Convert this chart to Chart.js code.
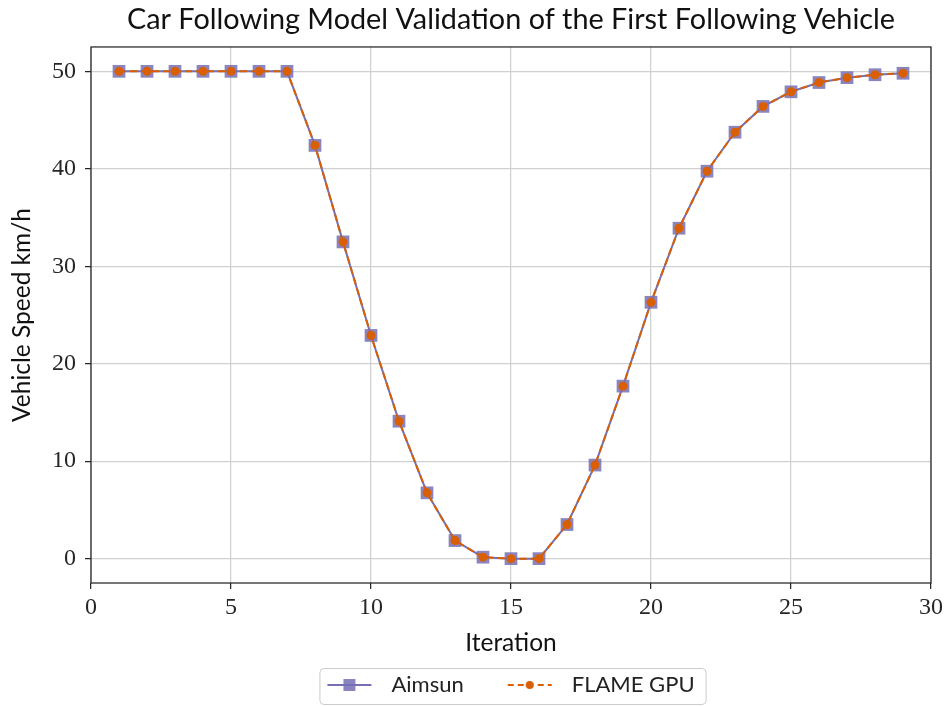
<!DOCTYPE html>
<html>
<head>
<meta charset="utf-8">
<script src="https://cdn.jsdelivr.net/npm/chart.js@4/dist/chart.umd.min.js"></script>
<style>
  html, body { margin: 0; padding: 0; background: #fff; }
</style>
</head>
<body>
<canvas id="chart" width="947" height="706"></canvas>
<script>
const iterations = [1, 2, 3, 4, 5, 6, 7, 8, 9, 10, 11, 12, 13, 14, 15, 16, 17, 18, 19, 20, 21, 22, 23, 24, 25, 26, 27, 28, 29];
const aimsun = [50, 50, 50, 50, 50, 50, 50, 42.4, 32.5, 22.9, 14.1, 6.75, 1.85, 0.15, 0, 0, 3.5, 9.6, 17.7, 26.3, 33.9, 39.75, 43.75, 46.4, 47.9, 48.85, 49.35, 49.65, 49.8];
const flameGpu = [50, 50, 50, 50, 50, 50, 50, 42.4, 32.5, 22.9, 14.1, 6.75, 1.85, 0.15, 0, 0, 3.5, 9.6, 17.7, 26.3, 33.9, 39.75, 43.75, 46.4, 47.9, 48.85, 49.35, 49.65, 49.8];
const xTicks = [0, 5, 10, 15, 20, 25, 30];
const yTicks = [0, 10, 20, 30, 40, 50];

const purple = "#7570b3";
const purpleFill = "rgba(117,112,179,0.85)";
const orange = "#d95f02";
const sans = "Lato, 'Open Sans', sans-serif";
const serif = "'Liberation Serif', serif";

// legend swatches: line with marker, like matplotlib
function swatch(color, dashed, marker) {
  const c = document.createElement("canvas");
  c.width = 87;
  c.height = 22;
  const g = c.getContext("2d");
  g.strokeStyle = color;
  g.lineWidth = 2;
  if (dashed) g.setLineDash([6, 4]);
  g.beginPath();
  g.moveTo(34, 11);
  g.lineTo(78, 11);
  g.stroke();
  g.setLineDash([]);
  if (marker === "rect") {
    g.fillStyle = purpleFill;
    g.fillRect(50, 5, 12, 12);
  } else {
    g.fillStyle = color;
    g.beginPath();
    g.arc(56, 11, 4, 0, Math.PI * 2);
    g.fill();
  }
  return c;
}
const swatches = [swatch(purple, false, "rect"), swatch(orange, true, "circle")];

const framePlugin = {
  id: "frame",
  afterLayout(chart) {
    chart.legend.left -= 17;
    chart.legend.right -= 17;
  },
  beforeDraw(chart) {
    const hb = chart.legend.legendHitBoxes;
    if (!hb || !hb.length) return;
    const ctx = chart.ctx;
    const last = hb[hb.length - 1];
    const x0 = hb[0].left + 26;
    const x1 = last.left + last.width + 11;
    const y0 = hb[0].top - 6;
    const y1 = hb[0].top + hb[0].height + 8;
    ctx.save();
    ctx.fillStyle = "#fff";
    ctx.strokeStyle = "#cccccc";
    ctx.lineWidth = 1;
    ctx.beginPath();
    ctx.roundRect(x0 + 0.5, y0 + 0.5, x1 - x0, y1 - y0, 4);
    ctx.fill();
    ctx.stroke();
    ctx.restore();
  },
  afterDatasetsDraw(chart) {
    const a = chart.chartArea;
    const ctx = chart.ctx;
    ctx.save();
    ctx.strokeStyle = "#262626";
    ctx.lineWidth = 1.25;
    ctx.strokeRect(a.left, a.top, a.right - a.left, a.bottom - a.top);
    ctx.restore();
  }
};

new Chart(document.getElementById("chart").getContext("2d"), {
  type: "line",
  data: {
    datasets: [
      {
        label: "Aimsun",
        data: iterations.map((x, i) => ({ x: x, y: aimsun[i] })),
        borderColor: purple,
        borderWidth: 2,
        pointStyle: "rect",
        pointRadius: 9,
        pointBackgroundColor: purpleFill,
        pointBorderWidth: 0,
        tension: 0,
        order: 2,
      },
      {
        label: "FLAME GPU",
        data: iterations.map((x, i) => ({ x: x, y: flameGpu[i] })),
        borderColor: orange,
        borderWidth: 2,
        borderDash: [7, 4],
        pointStyle: "circle",
        pointRadius: 4.5,
        pointBackgroundColor: orange,
        pointBorderWidth: 0,
        tension: 0,
        order: 1,
      },
    ],
  },
  options: {
    responsive: false,
    animation: false,
    layout: { padding: { left: 0, right: 16, top: 0, bottom: 0 } },
    plugins: {
      title: {
        display: true,
        fullSize: false,
        text: "Car Following Model Validation of the First Following Vehicle",
        color: "#111",
        font: { family: sans, size: 28.8, weight: "normal" },
        padding: { top: 2, bottom: 10.4 },
      },
      legend: {
        position: "bottom",
        fullSize: false,
        labels: {
          usePointStyle: true,
          pointStyleWidth: 87,
          padding: 10,
          color: "#222",
          font: { family: sans, size: 22 },
          sort: (a, b) => a.datasetIndex - b.datasetIndex,
          generateLabels(chart) {
            const items = Chart.defaults.plugins.legend.labels.generateLabels(chart);
            items.forEach(it => { it.pointStyle = swatches[it.datasetIndex]; });
            return items;
          },
        },
      },
      tooltip: { enabled: false },
    },
    scales: {
      x: {
        type: "linear",
        min: 0,
        max: 30,
        afterBuildTicks(s) { s.ticks = xTicks.map(v => ({ value: v })); },
        afterFit(s) { s.height = 81; },
        grid: { color: "#d0d0d0", lineWidth: 1.25, tickLength: 6, tickColor: "#262626" },
        border: { display: false },
        ticks: { color: "#262626", padding: 4, font: { family: serif, size: 24 } },
        title: { display: true, text: "Iteration", color: "#111", font: { family: sans, size: 24.5 }, padding: { top: 0, bottom: 6 } },
      },
      y: {
        min: -2.5,
        max: 52.5,
        afterBuildTicks(s) { s.ticks = yTicks.map(v => ({ value: v })); },
        afterFit(s) { s.width = 91; },
        grid: { color: "#d0d0d0", lineWidth: 1.25, tickLength: 6, tickColor: "#262626" },
        border: { display: false },
        ticks: { color: "#262626", padding: 9, font: { family: serif, size: 24 } },
        title: { display: true, text: "Vehicle Speed km/h", color: "#111", font: { family: sans, size: 24.5 }, padding: { top: 7, bottom: 0 } },
      },
    },
  },
  plugins: [framePlugin],
});
</script>
</body>
</html>
